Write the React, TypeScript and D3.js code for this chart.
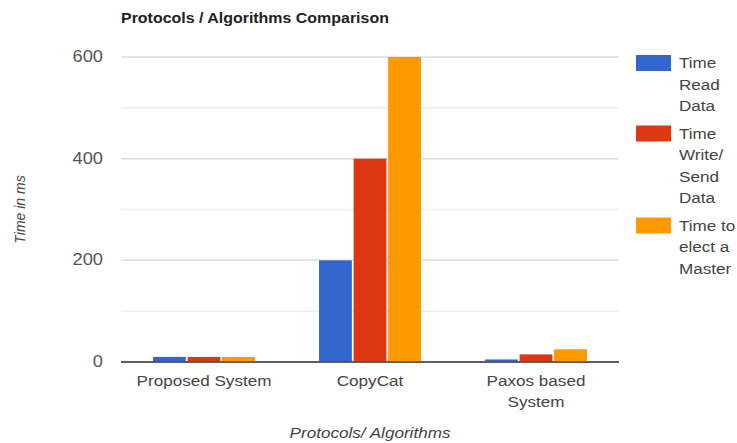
import React from "react";
import * as d3 from "d3";

const categories: string[][] = [["Proposed System"], ["CopyCat"], ["Paxos based", "System"]];
const seriesNames: string[][] = [["Time", "Read", "Data"], ["Time", "Write/", "Send", "Data"], ["Time to", "elect a", "Master"]];
const seriesColors = ["#3366cc", "#dc3912", "#ff9900"];
const timeReadData = [10, 200, 5];
const timeWriteSendData = [10, 400, 15];
const timeElectMaster = [10, 600, 25];
const yTicks = [0, 200, 400, 600];
const yMinorTicks = [100, 300, 500];
const title = "Protocols / Algorithms Comparison";
const yTitle = "Time in ms";
const xTitle = "Protocols/ Algorithms";

const W = 737, H = 443;
const left = 121, right = 619, top = 57, bottom = 362;
const SX = 1.14;

function SText(props: { x: number; y: number; anchor?: string; size: number; weight?: string; italic?: boolean; fill: string; children: React.ReactNode }) {
  const { x, y, anchor, size, weight, italic, fill, children } = props;
  return (
    <text
      transform={`translate(${x},${y}) scale(${SX},1)`}
      textAnchor={anchor || "start"}
      fontSize={size}
      fontWeight={weight}
      fontStyle={italic ? "italic" : undefined}
      fill={fill}
    >
      {children}
    </text>
  );
}

export default function App() {
  const series = [timeReadData, timeWriteSendData, timeElectMaster];
  const catKeys = categories.map((c) => c.join(" "));
  const x0 = d3.scaleBand<string>().domain(catKeys).range([left, right]).padding(0);
  const step = x0.step();
  const x1 = d3.scaleBand<number>().domain([0, 1, 2]).range([step * 0.193, step * 0.807]).paddingInner(0.05);
  const y = d3.scaleLinear().domain([0, 600]).range([bottom, top]);
  const font = "'Liberation Sans', Arial, sans-serif";
  let legendY = 55;
  return (
    <svg width={W} height={H} style={{ position: "absolute", left: 0, top: 0 }} fontFamily={font}>
      <rect width={W} height={H} fill="#fff" />
      <SText x={left} y={23} size={14} weight="bold" fill="#222">{title}</SText>
      {yMinorTicks.map((t) => (
        <line key={"m" + t} x1={left} x2={right} y1={y(t)} y2={y(t)} stroke="#eeeeee" strokeWidth={1.5} />
      ))}
      {yTicks.map((t) => (
        <g key={t}>
          <line x1={left} x2={right} y1={y(t)} y2={y(t)} stroke={t === 0 ? "#555" : "#dddddd"} strokeWidth={1.5} />
          <SText x={103} y={y(t) + 5} anchor="end" size={16} fill="#555">{t}</SText>
        </g>
      ))}
      {catKeys.map((c, ci) =>
        series.map((s, si) => {
          const xx = (x0(c) as number) + (x1(si) as number);
          return (
            <rect key={c + si} x={xx} y={y(s[ci])} width={x1.bandwidth()} height={bottom - y(s[ci])} fill={seriesColors[si]} />
          );
        })
      )}
      <line x1={left} x2={right} y1={bottom} y2={bottom} stroke="#555" strokeWidth={1.5} />
      {categories.map((lines, ci) =>
        lines.map((l, li) => (
          <SText key={ci + "-" + li} x={(x0(catKeys[ci]) as number) + step / 2} y={386 + li * 21} anchor="middle" size={15} fill="#444">{l}</SText>
        ))
      )}
      <SText x={(left + right) / 2} y={438} anchor="middle" size={15} italic fill="#444">{xTitle}</SText>
      <text transform={`translate(25,${(top + bottom) / 2 + 0}) rotate(-90)`} textAnchor="middle" fontSize={14} fontStyle="italic" fill="#444">{yTitle}</text>
      {seriesNames.map((lines, si) => {
        const yy = legendY;
        legendY += lines.length * 21.5 + 6;
        return (
          <g key={si}>
            <rect x={636} y={yy} width={35} height={16} fill={seriesColors[si]} />
            {lines.map((l, li) => (
              <SText key={li} x={679} y={yy + 13 + li * 21.5} size={15} fill="#444">{l}</SText>
            ))}
          </g>
        );
      })}
    </svg>
  );
}
